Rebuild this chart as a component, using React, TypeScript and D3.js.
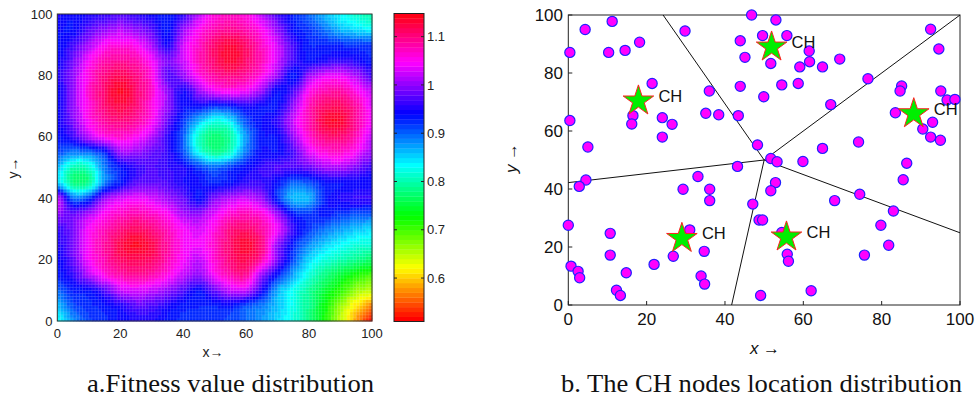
import React from 'react';
import * as d3 from 'd3';

// ---------- Fitness grid (rows from y=100 down to y=0, columns x=0..100 step 5) ----------
const gridXs = [0, 5, 10, 15, 20, 25, 30, 35, 40, 45, 50, 55, 60, 65, 70, 75, 80, 85, 90, 95, 100];
const gridYs = [100, 95, 90, 85, 80, 75, 70, 65, 60, 55, 50, 45, 40, 35, 30, 25, 20, 15, 10, 5, 0];
const fitnessRows: number[][] = [
  [0.95, 0.94, 0.95, 0.96, 0.97, 0.96, 0.945, 0.93, 0.96, 1.02, 1.06, 1.07, 1.06, 1.02, 0.97, 0.93, 0.9, 0.865, 0.835, 0.815, 0.8],
  [0.94, 0.94, 0.975, 1.0, 1.015, 1.0, 0.975, 0.935, 1.0, 1.05, 1.08, 1.095, 1.08, 1.05, 1.0, 0.94, 0.92, 0.895, 0.865, 0.85, 0.84],
  [0.935, 0.965, 1.01, 1.05, 1.06, 1.05, 1.01, 0.95, 1.025, 1.07, 1.11, 1.13, 1.11, 1.07, 1.025, 0.965, 0.93, 0.93, 0.925, 0.92, 0.915],
  [0.94, 0.985, 1.045, 1.08, 1.09, 1.08, 1.045, 0.99, 1.025, 1.075, 1.11, 1.135, 1.11, 1.075, 1.025, 0.965, 0.94, 0.95, 0.96, 0.95, 0.93],
  [0.95, 1.0, 1.06, 1.1, 1.12, 1.1, 1.06, 0.975, 1.0, 1.055, 1.087, 1.1, 1.087, 1.055, 1.0, 0.935, 1.0, 1.035, 1.04, 1.01, 0.97],
  [0.94, 1.0, 1.065, 1.11, 1.14, 1.11, 1.065, 1.0, 0.95, 1.0, 1.04, 1.05, 1.04, 1.0, 0.94, 0.97, 1.05, 1.08, 1.085, 1.055, 1.02],
  [0.94, 1.0, 1.06, 1.105, 1.125, 1.105, 1.06, 1.0, 0.94, 0.94, 0.92, 0.93, 0.95, 0.94, 0.94, 1.0, 1.075, 1.11, 1.115, 1.085, 1.035],
  [0.94, 0.99, 1.05, 1.085, 1.1, 1.085, 1.05, 0.98, 0.92, 0.86, 0.82, 0.84, 0.91, 0.94, 0.96, 1.025, 1.08, 1.13, 1.135, 1.09, 1.04],
  [0.935, 0.96, 1.015, 1.05, 1.065, 1.05, 1.015, 0.96, 0.905, 0.81, 0.775, 0.795, 0.88, 0.935, 0.94, 1.0, 1.065, 1.1, 1.105, 1.075, 1.02],
  [0.91, 0.89, 0.895, 0.93, 1.0, 1.0, 0.98, 0.96, 0.91, 0.83, 0.79, 0.815, 0.895, 0.94, 0.94, 0.97, 1.03, 1.06, 1.065, 1.045, 1.0],
  [0.86, 0.8, 0.81, 0.89, 0.935, 0.96, 0.97, 0.96, 0.95, 0.92, 0.9, 0.92, 0.94, 0.96, 0.97, 0.97, 0.98, 1.005, 1.01, 0.99, 0.96],
  [0.86, 0.785, 0.79, 0.89, 0.935, 0.975, 0.98, 0.97, 0.95, 0.94, 0.93, 0.94, 0.96, 0.96, 0.935, 0.9, 0.91, 0.935, 0.94, 0.94, 0.94],
  [1.02, 0.9, 0.92, 1.0, 1.03, 1.04, 1.03, 1.005, 0.98, 0.94, 0.99, 1.015, 1.025, 1.0, 0.925, 0.865, 0.87, 0.93, 0.95, 0.96, 0.96],
  [1.0, 0.98, 1.01, 1.05, 1.07, 1.08, 1.07, 1.05, 1.01, 1.0, 1.035, 1.065, 1.075, 1.06, 1.005, 0.93, 0.92, 0.935, 0.92, 0.91, 0.905],
  [0.96, 0.99, 1.045, 1.075, 1.1, 1.115, 1.1, 1.075, 1.045, 1.03, 1.06, 1.1, 1.11, 1.085, 1.04, 0.96, 0.92, 0.895, 0.875, 0.86, 0.85],
  [0.95, 0.99, 1.05, 1.085, 1.125, 1.14, 1.125, 1.085, 1.05, 1.04, 1.07, 1.11, 1.135, 1.1, 1.0, 0.93, 0.885, 0.855, 0.835, 0.82, 0.815],
  [0.94, 0.98, 1.045, 1.08, 1.11, 1.12, 1.11, 1.08, 1.045, 1.02, 1.065, 1.105, 1.12, 1.08, 0.99, 0.91, 0.85, 0.82, 0.8, 0.785, 0.77],
  [0.93, 0.96, 1.01, 1.055, 1.08, 1.09, 1.08, 1.055, 1.02, 1.0, 1.045, 1.08, 1.09, 1.0, 0.93, 0.87, 0.82, 0.78, 0.75, 0.72, 0.7],
  [0.9, 0.93, 0.94, 0.97, 1.02, 1.03, 1.02, 1.0, 0.97, 0.94, 0.98, 1.02, 1.02, 0.95, 0.87, 0.83, 0.79, 0.75, 0.71, 0.665, 0.65],
  [0.86, 0.91, 0.925, 0.935, 0.95, 0.975, 0.97, 0.95, 0.935, 0.93, 0.93, 0.935, 0.91, 0.89, 0.86, 0.825, 0.785, 0.73, 0.665, 0.61, 0.57],
  [0.83, 0.88, 0.915, 0.925, 0.94, 0.95, 0.95, 0.935, 0.925, 0.92, 0.92, 0.915, 0.9, 0.88, 0.85, 0.82, 0.78, 0.72, 0.65, 0.58, 0.52],
];
const colorDomain = [0.51, 1.148];
const colorbarTicks = [0.6, 0.7, 0.8, 0.9, 1, 1.1];
const colorbarTickLabels = ['0.6', '0.7', '0.8', '0.9', '1', '1.1'];
const axisTicks = [0, 20, 40, 60, 80, 100];

// ---------- Node positions ----------
const nodeX = [4.3, 11.2, 0.4, 10.3, 14.5, 18.2, 29.8, 21.4, 16.5, 16.2, 24.0, 26.5, 24.0, 0.4, 5.0, 36.0, 35.1, 38.4, 43.4, 43.9, 43.9, 43.2,
  46.8, 53.0, 49.6, 55.8, 61.5, 45.1, 51.7, 59.1, 61.6, 64.9, 69.3, 54.5, 58.7, 49.9, 76.5, 92.5, 94.6, 85.1, 84.7, 95.1, 96.7, 98.7, 83.5, 93.0, 90.5, 92.5, 95.0, 67.0, 74.1, 64.9, 48.3, 51.7, 53.3, 59.9, 86.4,
  4.5, 2.8, 33.1, 29.3, 36.1, 36.1, 0.0, 10.7, 31.0, 10.7, 34.7, 21.9, 26.8, 0.7, 2.5, 2.9, 14.8, 33.9, 34.8, 12.3, 13.3,
  85.5, 52.9, 51.7, 74.4, 68.0, 47.1, 83.0, 48.7, 49.6, 79.8, 81.8, 75.6, 55.9, 56.2, 49.1, 62.0, 54.5];
const nodeY = [95.0, 97.8, 87.1, 87.1, 87.8, 90.6, 94.5, 76.4, 65.3, 62.4, 64.6, 62.3, 57.9, 63.6, 54.5, 73.8, 66.1, 65.6, 65.3, 91.1, 75.4, 47.8,
  100, 98.3, 92.9, 92.9, 87.6, 85.4, 83.3, 82.1, 83.9, 82.1, 84.8, 75.9, 76.4, 71.8, 78.0, 95.1, 88.3, 75.5, 73.8, 73.8, 70.7, 70.9, 66.3, 63.0, 60.7, 57.9, 56.8, 69.1, 56.2, 54.0, 55.2, 50.5, 49.4, 49.5, 48.9,
  43.1, 40.9, 44.3, 39.9, 39.9, 36.0, 27.5, 24.7, 25.9, 17.2, 18.5, 14.0, 16.8, 13.4, 11.6, 9.4, 11.1, 10.0, 7.2, 5.1, 3.3,
  43.2, 42.2, 39.4, 38.2, 36.0, 34.8, 32.4, 29.3, 29.3, 27.5, 20.6, 17.2, 17.5, 15.1, 3.3, 4.9, 25.0];
const chX = [17.9, 51.9, 88.2, 29.0, 55.7];
const chY = [70.7, 89.3, 66.3, 23.3, 23.8];
const baseX = 50;
const baseY = 50;
const sectorEndX = [24.2, 100, 100, 41.7, 0];
const sectorEndY = [100, 100, 24.9, 0, 42.2];

// ---------- helpers ----------
const nR = fitnessRows.length - 1;
const nC = fitnessRows[0].length - 1;
const g = (r: number, c: number) => fitnessRows[Math.max(0, Math.min(nR, r))][Math.max(0, Math.min(nC, c))];
const cr = (p0: number, p1: number, p2: number, p3: number, t: number) =>
  0.5 * (2 * p1 + (-p0 + p2) * t + (2 * p0 - 5 * p1 + 4 * p2 - p3) * t * t + (-p0 + 3 * p1 - 3 * p2 + p3) * t * t * t);
function fitnessAt(x: number, y: number) {
  const c = (x / 100) * nC;
  const r = ((100 - y) / 100) * nR;
  const c0 = Math.min(Math.floor(c), nC - 1);
  const r0 = Math.min(Math.floor(r), nR - 1);
  const fc = c - c0;
  const fr = r - r0;
  const rowsV = [-1, 0, 1, 2].map((dr) =>
    cr(g(r0 + dr, c0 - 1), g(r0 + dr, c0), g(r0 + dr, c0 + 1), g(r0 + dr, c0 + 2), fc)
  );
  return cr(rowsV[0], rowsV[1], rowsV[2], rowsV[3], fr);
}
const NLEV = 64;
function hsvColor(v: number) {
  let t = (v - colorDomain[0]) / (colorDomain[1] - colorDomain[0]);
  t = Math.max(0, Math.min(0.9999, t));
  const idx = Math.floor(t * NLEV);
  return d3.hsl((idx / NLEV) * 360, 1, 0.5).formatHex();
}

const SANS: React.CSSProperties = { fontFamily: "'Liberation Sans', Arial, Helvetica, sans-serif" };
const SERIF: React.CSSProperties = { fontFamily: "'Liberation Serif', 'Times New Roman', Times, serif" };

export default function App() {
  const hx = d3.scaleLinear().domain([0, 100]).range([57.3, 372]);
  const hy = d3.scaleLinear().domain([0, 100]).range([321, 14]);
  const cbY = d3.scaleLinear().domain(colorDomain).range([321.5, 13.5]);
  const sx = d3.scaleLinear().domain([0, 100]).range([568.3, 960]);
  const sy = d3.scaleLinear().domain([0, 100]).range([305, 15]);

  const N = 100;
  const cells: JSX.Element[] = [];
  for (let i = 0; i < N; i++) {
    for (let j = 0; j < N; j++) {
      const x0 = hx(i), x1 = hx(i + 1), y0 = hy(j + 1), y1 = hy(j);
      cells.push(
        <rect key={`c${i}-${j}`} x={x0} y={y0} width={x1 - x0 + 0.4} height={y1 - y0 + 0.4}
          fill={hsvColor(fitnessAt(i + 0.5, j + 0.5))} />
      );
    }
  }
  const meshLines: JSX.Element[] = [];
  for (let k = 1; k < N; k++) {
    meshLines.push(<line key={`mv${k}`} x1={hx(k)} x2={hx(k)} y1={hy(0)} y2={hy(100)} />);
    meshLines.push(<line key={`mh${k}`} y1={hy(k)} y2={hy(k)} x1={hx(0)} x2={hx(100)} />);
  }

  const cbSteps = d3.range(NLEV).map((k) => {
    const v0 = colorDomain[0] + ((colorDomain[1] - colorDomain[0]) * k) / NLEV;
    const v1 = colorDomain[0] + ((colorDomain[1] - colorDomain[0]) * (k + 1)) / NLEV;
    return (
      <rect key={`cb${k}`} x={394} width={30} y={cbY(v1)} height={cbY(v0) - cbY(v1) + 0.3}
        fill={d3.hsl((k / NLEV) * 360, 1, 0.5).formatHex()} />
    );
  });

  const starPath = d3.symbol(d3.symbolStar, 290)() as string;

  return (
    <svg width={976} height={399} style={{ position: 'absolute', left: 0, top: 0, background: '#fff' }}>
      <rect width={976} height={399} fill="#fff" />
      {/* ---------- Left: heatmap ---------- */}
      <g>{cells}</g>
      <g stroke="#fff" strokeOpacity={0.22} strokeWidth={0.6}>{meshLines}</g>
      <rect x={hx(0)} y={hy(100)} width={hx(100) - hx(0)} height={hy(0) - hy(100)} fill="none" stroke="#333" strokeWidth={1} />
      {axisTicks.map((t) => (
        <text key={`hyl${t}`} x={52.5} y={hy(t)} dy="0.36em" textAnchor="end" style={SANS} fontSize={13} fill="#222">{t}</text>
      ))}
      {axisTicks.map((t) => (
        <text key={`hxl${t}`} x={hx(t)} y={338} textAnchor="middle" style={SANS} fontSize={13} fill="#222">{t}</text>
      ))}
      <text x={213} y={357} textAnchor="middle" style={SANS} fontSize={14} fill="#222">x→</text>
      <text transform="translate(18,168) rotate(-90)" textAnchor="middle" style={SANS} fontSize={14} fill="#222">y→</text>

      {/* colorbar */}
      <g>{cbSteps}</g>
      <rect x={394} y={13.5} width={30} height={308} fill="none" stroke="#222" strokeWidth={1} />
      {colorbarTicks.map((t, i) => (
        <g key={`cbt${t}`}>
          <line x1={394} x2={397} y1={cbY(t)} y2={cbY(t)} stroke="#222" />
          <line x1={421} x2={424} y1={cbY(t)} y2={cbY(t)} stroke="#222" />
          <text x={427} y={cbY(t)} dy="0.36em" style={SANS} fontSize={13} fill="#222">{colorbarTickLabels[i]}</text>
        </g>
      ))}

      {/* ---------- Right: node scatter ---------- */}
      <rect x={sx(0)} y={sy(100)} width={sx(100) - sx(0)} height={sy(0) - sy(100)} fill="none" stroke="#222" strokeWidth={1} />
      {axisTicks.map((t) => (
        <g key={`syt${t}`}>
          <line x1={sx(0)} x2={sx(0) + 4} y1={sy(t)} y2={sy(t)} stroke="#222" />
          <text x={563} y={sy(t)} dy="0.36em" textAnchor="end" style={SANS} fontSize={17} fill="#111">{t}</text>
        </g>
      ))}
      {axisTicks.map((t) => (
        <g key={`sxt${t}`}>
          <line x1={sx(t)} x2={sx(t)} y1={sy(0)} y2={sy(0) - 4} stroke="#222" />
          <text x={sx(t)} y={325} textAnchor="middle" style={SANS} fontSize={17} fill="#111">{t}</text>
        </g>
      ))}
      {sectorEndX.map((ex, i) => (
        <line key={`sec${i}`} x1={sx(baseX)} y1={sy(baseY)} x2={sx(ex)} y2={sy(sectorEndY[i])} stroke="#111" strokeWidth={1} />
      ))}
      {nodeX.map((x, i) => (
        <circle key={`n${i}`} cx={sx(x)} cy={sy(nodeY[i])} r={5.1} fill="#ff00ff" stroke="#2020ff" strokeWidth={1.2} />
      ))}
      {chX.map((x, i) => (
        <g key={`ch${i}`}>
          <path d={starPath} transform={`translate(${sx(x)},${sy(chY[i]) + 1})`} fill="#00ee00" stroke="#ff2020" strokeWidth={1} />
          <text x={sx(x) + 20} y={sy(chY[i]) + 2} style={SANS} fontSize={16.5} fill="#111">CH</text>
        </g>
      ))}
      <text x={765} y={354} textAnchor="middle" style={SANS} fontSize={17} fill="#111">
        <tspan fontStyle="italic">x</tspan> →
      </text>
      <text transform="translate(517,158) rotate(-90)" textAnchor="middle" style={SANS} fontSize={17} fill="#111">
        <tspan fontStyle="italic">y</tspan> →
      </text>

      {/* captions */}
      <text x={87} y={392} style={SERIF} fontSize={25} textLength={287} lengthAdjust="spacingAndGlyphs" fill="#111">a.Fitness value distribution</text>
      <text x={561} y={392} style={SERIF} fontSize={25} textLength={401} lengthAdjust="spacingAndGlyphs" fill="#111">b. The CH nodes location distribution</text>
    </svg>
  );
}
